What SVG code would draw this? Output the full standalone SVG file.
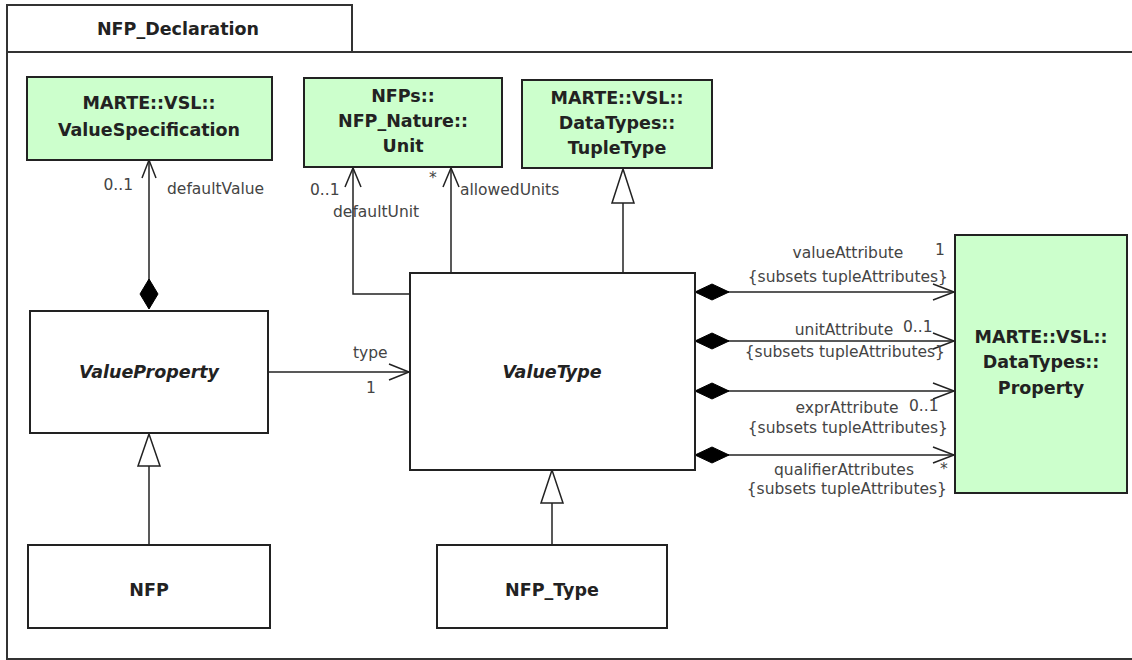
<svg xmlns="http://www.w3.org/2000/svg" width="1132" height="660" viewBox="0 0 1132 660">
<style>
.frame{fill:#fff;stroke:#333;stroke-width:2}
.node{stroke:#222;stroke-width:2}
.ext{fill:#ccffcc}
.cls{fill:#fff}
.nt{font-family:"DejaVu Sans",Verdana,sans-serif;font-weight:bold;font-size:17.5px;fill:#222;text-anchor:middle}
.it{font-style:italic}
.lbl{font-family:"DejaVu Sans",Verdana,sans-serif;font-size:15.5px;fill:#444}
.ln{fill:none;stroke:#222;stroke-width:1.5}
.open{fill:none;stroke:#222;stroke-width:1.5}
.dia{fill:#000;stroke:#000}
.tri{fill:#fff;stroke:#222;stroke-width:1.5}
</style>
<g id="frame">
<rect class="frame" x="7" y="52" width="1130" height="607"/>
<rect class="frame" x="7" y="5" width="345" height="47"/>
<text class="nt" x="178" y="35">NFP_Declaration</text>
</g>
<g id="connectors">
<!-- defaultValue composition -->
<line class="ln" x1="149" y1="308" x2="149" y2="160"/>
<polygon class="dia" points="149,309 158,294 149,279 140,294"/>
<polyline class="open" points="142,178 149,160 156,178"/>
<text class="lbl" x="133" y="190" text-anchor="end">0..1</text>
<text class="lbl" x="167" y="194">defaultValue</text>
<!-- defaultUnit -->
<polyline class="ln" points="410,294 353,294 353,168"/>
<polyline class="open" points="345,187 353,168 361,187"/>
<text class="lbl" x="310" y="195">0..1</text>
<text class="lbl" x="333" y="217">defaultUnit</text>
<!-- allowedUnits -->
<line class="ln" x1="451" y1="273" x2="451" y2="168"/>
<polyline class="open" points="443,187 451,168 459,187"/>
<text class="lbl" x="429" y="183">*</text>
<text class="lbl" x="460" y="195">allowedUnits</text>
<!-- TupleType generalization -->
<line class="ln" x1="623" y1="273" x2="623" y2="203"/>
<polygon class="tri" points="623,169 612,203 634,203"/>
<!-- type -->
<line class="ln" x1="268" y1="372" x2="409" y2="372"/>
<polyline class="open" points="389,364 409,372 389,380"/>
<text class="lbl" x="353" y="358">type</text>
<text class="lbl" x="366" y="393">1</text>
<!-- ValueProperty generalization -->
<line class="ln" x1="149" y1="545" x2="149" y2="466"/>
<polygon class="tri" points="149,434 138,466 160,466"/>
<!-- NFP_Type generalization -->
<line class="ln" x1="552" y1="545" x2="552" y2="503"/>
<polygon class="tri" points="552,470 541,503 563,503"/>
<!-- attribute compositions -->
<line class="ln" x1="695" y1="292" x2="954" y2="292"/>
<polygon class="dia" points="695,292 712,284 729,292 712,300"/>
<polyline class="open" points="933,284 954,292 933,300"/>
<text class="lbl" x="848" y="258" text-anchor="middle">valueAttribute</text>
<text class="lbl" x="935" y="255">1</text>
<text class="lbl" x="948" y="282" text-anchor="end">{subsets tupleAttributes}</text>
<line class="ln" x1="695" y1="341" x2="954" y2="341"/>
<polygon class="dia" points="695,341 712,333 729,341 712,349"/>
<polyline class="open" points="933,333 954,341 933,349"/>
<text class="lbl" x="844" y="335" text-anchor="middle">unitAttribute</text>
<text class="lbl" x="903" y="332">0..1</text>
<text class="lbl" x="945" y="357" text-anchor="end">{subsets tupleAttributes}</text>
<line class="ln" x1="695" y1="391" x2="954" y2="391"/>
<polygon class="dia" points="695,391 712,383 729,391 712,399"/>
<polyline class="open" points="933,383 954,391 933,399"/>
<text class="lbl" x="847" y="413" text-anchor="middle">exprAttribute</text>
<text class="lbl" x="909" y="411">0..1</text>
<text class="lbl" x="948" y="433" text-anchor="end">{subsets tupleAttributes}</text>
<line class="ln" x1="695" y1="455" x2="954" y2="455"/>
<polygon class="dia" points="695,455 712,447 729,455 712,463"/>
<polyline class="open" points="933,447 954,455 933,463"/>
<text class="lbl" x="844" y="475" text-anchor="middle">qualifierAttributes</text>
<text class="lbl" x="940" y="474">*</text>
<text class="lbl" x="947" y="494" text-anchor="end">{subsets tupleAttributes}</text>
</g>
<g id="ValueSpecification">
<rect class="node ext" x="27" y="77" width="245" height="83"/>
<text class="nt" x="149" y="109">MARTE::VSL::</text>
<text class="nt" x="149" y="136">ValueSpecification</text>
</g>
<g id="Unit">
<rect class="node ext" x="304" y="78" width="198" height="89"/>
<text class="nt" x="403" y="102">NFPs::</text>
<text class="nt" x="403" y="127">NFP_Nature::</text>
<text class="nt" x="403" y="152">Unit</text>
</g>
<g id="TupleType">
<rect class="node ext" x="522" y="80" width="190" height="88"/>
<text class="nt" x="617" y="104">MARTE::VSL::</text>
<text class="nt" x="617" y="129">DataTypes::</text>
<text class="nt" x="617" y="154">TupleType</text>
</g>
<g id="ValueProperty">
<rect class="node cls" x="30" y="311" width="238" height="122"/>
<text class="nt it" x="149" y="378">ValueProperty</text>
</g>
<g id="ValueType">
<rect class="node cls" x="410" y="273" width="285" height="197"/>
<text class="nt it" x="552" y="378">ValueType</text>
</g>
<g id="Property">
<rect class="node ext" x="955" y="235" width="172" height="258"/>
<text class="nt" x="1041" y="343">MARTE::VSL::</text>
<text class="nt" x="1041" y="368">DataTypes::</text>
<text class="nt" x="1041" y="394">Property</text>
</g>
<g id="NFP">
<rect class="node cls" x="28" y="545" width="242" height="83"/>
<text class="nt" x="149" y="596">NFP</text>
</g>
<g id="NFP_Type">
<rect class="node cls" x="437" y="545" width="230" height="83"/>
<text class="nt" x="552" y="596">NFP_Type</text>
</g>
</svg>
